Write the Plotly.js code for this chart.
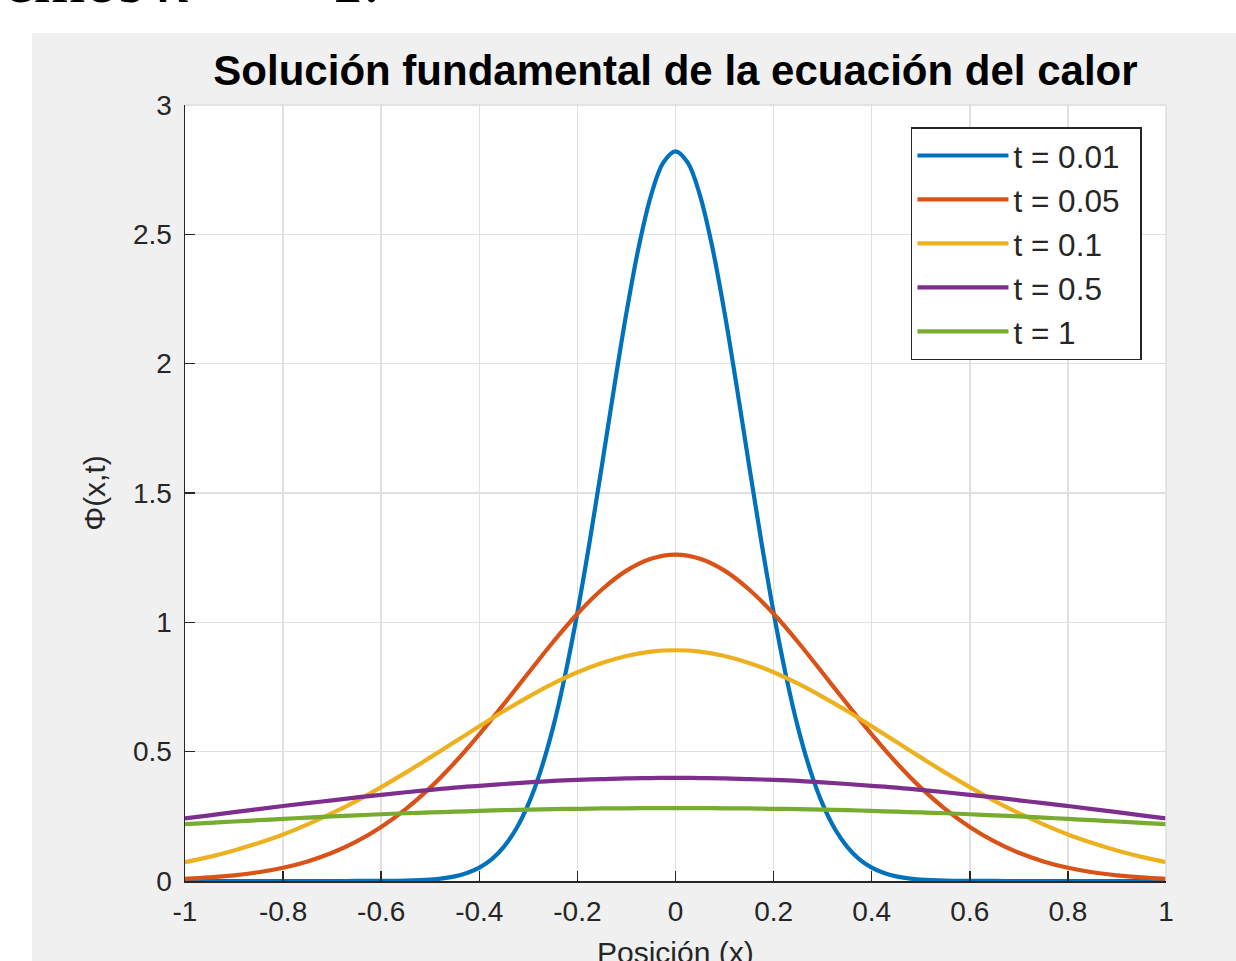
<!DOCTYPE html>
<html>
<head>
<meta charset="utf-8">
<script src="https://cdn.plot.ly/plotly-3.0.1.min.js"></script>
<style>
html,body{margin:0;padding:0;background:#ffffff;}
#chart{width:1236px;height:961px;}
</style>
</head>
<body>
<div id="chart"></div>
<script>
// x positions (Posición)
const xPos = [-1.00,-0.95,-0.90,-0.85,-0.80,-0.75,-0.70,-0.65,-0.60,-0.55,-0.50,-0.45,-0.40,-0.35,-0.30,-0.25,-0.20,-0.15,-0.10,-0.05,0.00,
               0.05,0.10,0.15,0.20,0.25,0.30,0.35,0.40,0.45,0.50,0.55,0.60,0.65,0.70,0.75,0.80,0.85,0.90,0.95,1.00];
// denser x positions for the narrow t = 0.01 curve
const xPosNarrow = [-1.00,-0.95,-0.90,-0.85,-0.80,-0.75,-0.70,-0.65,-0.60,-0.55,-0.50,
                    -0.475,-0.45,-0.425,-0.40,-0.375,-0.35,-0.325,-0.30,-0.275,-0.25,-0.225,-0.20,-0.175,-0.15,-0.125,-0.10,-0.075,-0.05,-0.025,0,
                    0.025,0.05,0.075,0.10,0.125,0.15,0.175,0.20,0.225,0.25,0.275,0.30,0.325,0.35,0.375,0.40,0.425,0.45,0.475,
                    0.50,0.55,0.60,0.65,0.70,0.75,0.80,0.85,0.90,0.95,1.00];

// series values
const phi001 = [0,0,0,0,0,0,0,0.0001,0.0003,0.0015,0.0054,
                0.0100,0.0179,0.0309,0.0517,0.0838,0.132,0.201,0.297,0.426,0.591,0.796,1.038,1.312,1.607,1.909,2.197,2.451,2.650,2.777,2.821,
                2.777,2.650,2.451,2.197,1.909,1.607,1.312,1.038,0.796,0.591,0.426,0.297,0.201,0.132,0.0838,0.0517,0.0309,0.0179,0.0100,
                0.0054,0.0015,0.0003,0.0001,0,0,0,0,0,0,0];
const phi005 = [0.0085,0.0138,0.0220,0.0340,0.0514,0.0758,0.109,0.153,0.209,0.278,0.361,0.458,0.567,0.684,0.804,0.923,1.033,1.127,1.200,1.246,1.262,
                1.246,1.200,1.127,1.033,0.923,0.804,0.684,0.567,0.458,0.361,0.278,0.209,0.153,0.109,0.0758,0.0514,0.0340,0.0220,0.0138,0.0085];
const phi01  = [0.0732,0.0934,0.118,0.147,0.180,0.219,0.262,0.310,0.363,0.419,0.478,0.538,0.598,0.657,0.712,0.763,0.807,0.843,0.870,0.887,0.892,
                0.887,0.870,0.843,0.807,0.763,0.712,0.657,0.598,0.538,0.478,0.419,0.363,0.310,0.262,0.219,0.180,0.147,0.118,0.0934,0.0732];
const phi05  = [0.242,0.254,0.266,0.278,0.290,0.301,0.312,0.323,0.333,0.343,0.352,0.361,0.368,0.375,0.381,0.387,0.391,0.394,0.397,0.398,0.399,
                0.398,0.397,0.394,0.391,0.387,0.381,0.375,0.368,0.361,0.352,0.343,0.333,0.323,0.312,0.301,0.290,0.278,0.266,0.254,0.242];
const phi1   = [0.220,0.225,0.230,0.235,0.240,0.245,0.250,0.254,0.258,0.262,0.265,0.268,0.271,0.274,0.276,0.278,0.279,0.281,0.281,0.282,0.282,
                0.282,0.281,0.281,0.279,0.278,0.276,0.274,0.271,0.268,0.265,0.262,0.258,0.254,0.250,0.245,0.240,0.235,0.230,0.225,0.220];

const seriesNames = ['t = 0.01','t = 0.05','t = 0.1','t = 0.5','t = 1'];
const seriesColors = ['#0072BD','#D95319','#EDB120','#7E2F8E','#77AC30'];
const seriesX = [xPosNarrow, xPos, xPos, xPos, xPos];
const seriesValues = [phi001, phi005, phi01, phi05, phi1];

const xTickVals = [-1,-0.8,-0.6,-0.4,-0.2,0,0.2,0.4,0.6,0.8,1];
const xTickText = ['-1','-0.8','-0.6','-0.4','-0.2','0','0.2','0.4','0.6','0.8','1'];
const yTickVals = [0,0.5,1,1.5,2,2.5,3];
const yTickText = ['0','0.5','1','1.5','2','2.5','3'];

const titleText = 'Solución fundamental de la ecuación del calor';
const xTitle = 'Posición (x)';
const yTitle = 'Φ(x,t)';
const topText = 'extremos <i>x</i>\u00A0 =\u00A0 −1.';

const traces = seriesValues.map((v, i) => ({
  x: seriesX[i], y: v, type: 'scatter', mode: 'lines', name: seriesNames[i] + '\u00A0\u2009',
  line: {color: seriesColors[i], width: 4.2, shape: 'spline', smoothing: 1}
}));

const axisCommon = {
  ticks: 'inside', ticklen: 10, tickwidth: 1.5, tickcolor: '#262626',
  showline: true, linecolor: '#262626', linewidth: 1.5, mirror: false,
  showgrid: true, gridcolor: '#e0e0e0', gridwidth: 1.5, zeroline: false,
  tickfont: {family: 'Liberation Sans, Arial, sans-serif', size: 28, color: '#262626'}
};

const layout = {
  width: 1236, height: 961,
  margin: {l: 185, r: 70, t: 105, b: 80, autoexpand: false},
  paper_bgcolor: '#f0f0f0', plot_bgcolor: '#ffffff',
  font: {family: 'Liberation Sans, Arial, sans-serif', color: '#262626'},
  title: {text: '<b>' + titleText + '</b>', font: {size: 42, color: '#000000', family: 'Liberation Sans, Arial, sans-serif'},
          x: 0.5465, xanchor: 'center', xref: 'container', y: 0.9272, yanchor: 'middle', yref: 'container'},
  xaxis: Object.assign({}, axisCommon, {range: [-1, 1], tickmode: 'array', tickvals: xTickVals, ticktext: xTickText,
          ticklabelstandoff: 5}),
  yaxis: Object.assign({}, axisCommon, {range: [0, 3], tickmode: 'array', tickvals: yTickVals, ticktext: yTickText,
          ticklabelstandoff: 6,
          title: {text: yTitle, font: {size: 30, color: '#262626'}, standoff: 18}}),
  legend: {x: 0.9755, xanchor: 'right', y: 0.9716, yanchor: 'top', bgcolor: '#ffffff',
           bordercolor: '#262626', borderwidth: 1.5, itemwidth: 91,
           font: {size: 31.5, color: '#262626', family: 'Liberation Sans, Arial, sans-serif'}},
  showlegend: true,
  shapes: [
    {type: 'rect', xref: 'paper', yref: 'paper', x0: -0.2, x1: -0.156, y0: -0.12, y1: 1.15,
     fillcolor: '#ffffff', line: {width: 0}, layer: 'below'},
    {type: 'rect', xref: 'paper', yref: 'paper', x0: -0.2, x1: 1.1, y0: 1.0928, y1: 1.15,
     fillcolor: '#ffffff', line: {width: 0}, layer: 'below'},
    {type: 'line', xref: 'paper', yref: 'paper', x0: 0, x1: 1, y0: 1, y1: 1,
     line: {color: '#dcdcdc', width: 1.5}, layer: 'above'},
    {type: 'line', xref: 'paper', yref: 'paper', x0: 1, x1: 1, y0: 0, y1: 1,
     line: {color: '#dcdcdc', width: 1.5}, layer: 'above'}
  ],
  annotations: [
    {text: topText, xref: 'paper', yref: 'paper', x: 0.2008, xanchor: 'right', y: 1.112, yanchor: 'bottom',
     showarrow: false, font: {family: 'Liberation Serif, DejaVu Serif, serif', size: 66, color: '#000000'}},
    {text: xTitle, xref: 'paper', yref: 'paper', x: 0.5, xanchor: 'center', y: -0.0683, yanchor: 'top',
     showarrow: false, font: {family: 'Liberation Sans, Arial, sans-serif', size: 30, color: '#262626'}}
  ]
};

Plotly.newPlot('chart', traces, layout, {displayModeBar: false, staticPlot: true});
</script>
</body>
</html>
